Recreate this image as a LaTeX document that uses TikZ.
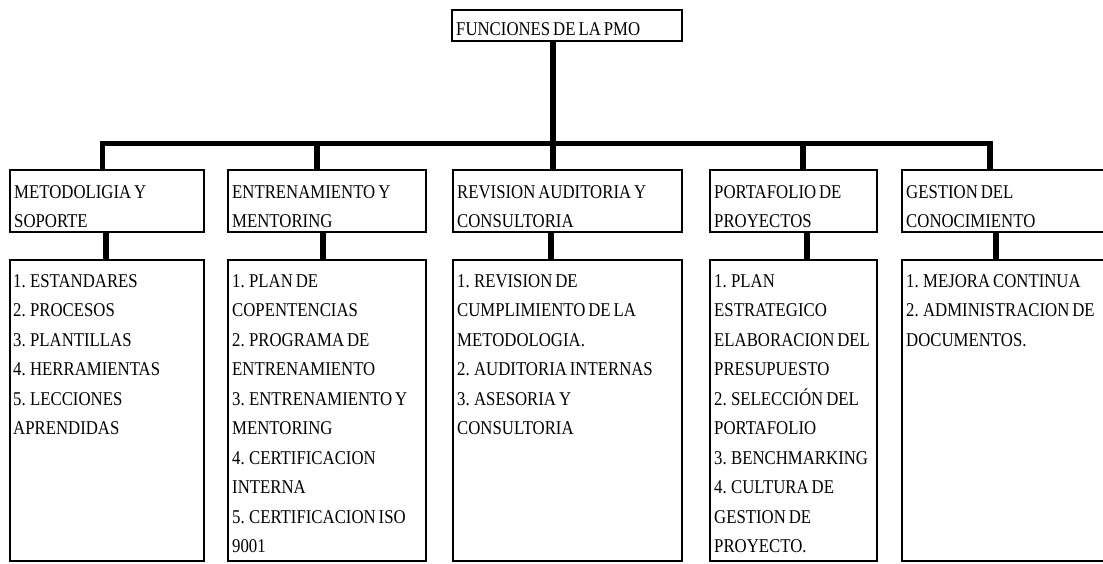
\documentclass[tikz,border=0pt]{standalone}
\usepackage{fontspec}
\setmainfont{Liberation Serif}[FakeStretch=0.86, WordSpace=0.7]
\begin{document}
\begin{tikzpicture}[x=1pt,y=-1pt,
  box/.style={draw=black, line width=2pt, fill=white, rectangle,
    anchor=north west, inner sep=0pt, outer sep=0pt},
  lbl/.style={anchor=north west, inner sep=0pt, align=left,
    font=\fontsize{19.5}{29.5}\selectfont},
  link/.style={draw=black, line width=5.5pt}]
\useasboundingbox (0,0) rectangle (1103,563);
\clip (0,0) rectangle (1103,563);

% root
\node[box, minimum width=230pt, minimum height=31pt] (top) at (452,10) {};
\node[lbl, xshift=4pt, yshift=-12pt] (ttop) at (top.north west) {FUNCIONES DE LA PMO};

% second level: headings
\node[box, minimum width=194pt, minimum height=62pt] (h1) at (10,170) {};
\node[box, minimum width=198pt, minimum height=62pt] (h2) at (228,170) {};
\node[box, minimum width=229pt, minimum height=62pt] (h3) at (453,170) {};
\node[box, minimum width=167pt, minimum height=62pt] (h4) at (710,170) {};
\node[box, minimum width=210pt, minimum height=62pt] (h5) at (902,170) {};

\node[lbl, xshift=4pt, yshift=-15pt] (th1) at (h1.north west) {METODOLIGIA Y\\SOPORTE};
\node[lbl, xshift=4pt, yshift=-15pt] (th2) at (h2.north west) {ENTRENAMIENTO Y\\MENTORING};
\node[lbl, xshift=4pt, yshift=-15pt] (th3) at (h3.north west) {REVISION AUDITORIA Y\\CONSULTORIA};
\node[lbl, xshift=4pt, yshift=-15pt] (th4) at (h4.north west) {PORTAFOLIO DE\\PROYECTOS};
\node[lbl, xshift=4pt, yshift=-15pt] (th5) at (h5.north west) {GESTION DEL\\CONOCIMIENTO};

% third level: item lists
\node[box, minimum width=194pt, minimum height=301pt] (c1) at (10,260) {};
\node[box, minimum width=198pt, minimum height=301pt] (c2) at (228,260) {};
\node[box, minimum width=229pt, minimum height=301pt] (c3) at (453,260) {};
\node[box, minimum width=167pt, minimum height=301pt] (c4) at (710,260) {};
\node[box, minimum width=210pt, minimum height=301pt] (c5) at (902,260) {};

\node[lbl, xshift=3pt, yshift=-14pt] (tc1) at (c1.north west)
  {1. ESTANDARES\\2. PROCESOS\\3. PLANTILLAS\\4. HERRAMIENTAS\\5. LECCIONES\\APRENDIDAS};
\node[lbl, xshift=4pt, yshift=-14pt] (tc2) at (c2.north west)
  {1. PLAN DE\\COPENTENCIAS\\2. PROGRAMA DE\\ENTRENAMIENTO\\3. ENTRENAMIENTO Y\\MENTORING\\4. CERTIFICACION\\INTERNA\\5. CERTIFICACION ISO\\9001};
\node[lbl, xshift=4pt, yshift=-14pt] (tc3) at (c3.north west)
  {1. REVISION DE\\CUMPLIMIENTO DE LA\\METODOLOGIA.\\2. AUDITORIA INTERNAS\\3. ASESORIA Y\\CONSULTORIA};
\node[lbl, xshift=4pt, yshift=-14pt] (tc4) at (c4.north west)
  {1. PLAN\\ESTRATEGICO\\ELABORACION DEL\\PRESUPUESTO\\2. SELECCIÓN DEL\\PORTAFOLIO\\3. BENCHMARKING\\4. CULTURA DE\\GESTION DE\\PROYECTO.};
\node[lbl, xshift=4pt, yshift=-14pt] (tc5) at (c5.north west)
  {1. MEJORA CONTINUA\\2. ADMINISTRACION DE\\DOCUMENTOS.};

% branch points on the distribution bar
\coordinate (u1) at (102.5,143.5);
\coordinate (u2) at (317,143.5);
\coordinate (u3) at (553,143.5);
\coordinate (u4) at (803,143.5);
\coordinate (u5) at (990,143.5);
% drops from headings to lists
\coordinate (d1) at (106,0);
\coordinate (d2) at (323,0);
\coordinate (d3) at (551,0);
\coordinate (d4) at (807,0);
\coordinate (d5) at (996,0);

\draw[link] (top.south -| u3) -- (u3);
\draw[link] (h1.north -| u1) -- (u1) -- (u5) -- (h5.north -| u5);
\draw[link] (u2) -- (h2.north -| u2);
\draw[link] (u3) -- (h3.north -| u3);
\draw[link] (u4) -- (h4.north -| u4);

\draw[link] (h1.south -| d1) -- (c1.north -| d1);
\draw[link] (h2.south -| d2) -- (c2.north -| d2);
\draw[link] (h3.south -| d3) -- (c3.north -| d3);
\draw[link] (h4.south -| d4) -- (c4.north -| d4);
\draw[link] (h5.south -| d5) -- (c5.north -| d5);
\end{tikzpicture}
\end{document}
